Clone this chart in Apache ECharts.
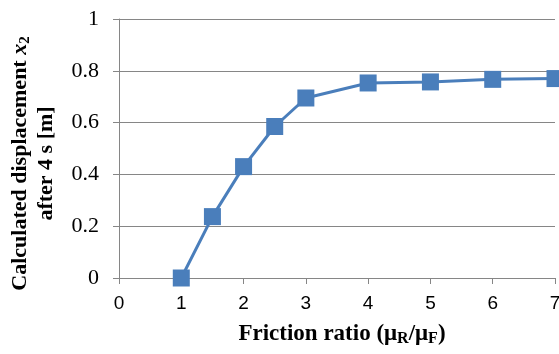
<!DOCTYPE html>
<html><head><meta charset="utf-8">
<script src="https://cdn.jsdelivr.net/npm/echarts@6/dist/echarts.min.js"></script>
<style>html,body{margin:0;padding:0;background:#fff}#c{width:559px;height:354px}</style>
</head><body><div id="c"></div>
<script>
const frictionRatio = [1, 1.5, 2, 2.5, 3, 4, 5, 6, 7];
const displacement = [0, 0.237, 0.43, 0.585, 0.695, 0.753, 0.757, 0.767, 0.77];
const xTicks = [0, 1, 2, 3, 4, 5, 6, 7];
const yTicks = [0, 0.2, 0.4, 0.6, 0.8, 1];

const chart = echarts.init(document.getElementById('c'));
const serif = '"Liberation Serif", "Times New Roman", serif';
chart.setOption({
  animation: false,
  backgroundColor: '#fff',
  grid: { left: 119, right: 4, top: 19, bottom: 76, containLabel: false, outerBoundsMode: 'none' },
  xAxis: {
    type: 'value', min: 0, max: 7, interval: 1,
    axisLine: { show: true, lineStyle: { color: '#868686', width: 1 } },
    axisTick: { show: true, length: 6, lineStyle: { color: '#868686' } },
    splitLine: { show: false },
    axisLabel: { color: '#000', fontFamily: '"Liberation Sans", Arial, sans-serif', fontSize: 19, margin: 16 },
    name: '{b|Friction ratio (μ}{s|R}{b|/μ}{s|F}{b|)}',
    nameLocation: 'middle', nameGap: 44,
    nameTextStyle: {
      padding: [0, 0, 0, 10],
      rich: {
        b: { fontFamily: serif, fontWeight: 'bold', fontSize: 23, color: '#000' },
        s: { fontFamily: serif, fontWeight: 'bold', fontSize: 16, color: '#000', verticalAlign: 'bottom', padding: [9, 0, 0, 0] }
      }
    }
  },
  yAxis: {
    type: 'value', min: 0, max: 1, interval: 0.2,
    axisLine: { show: true, lineStyle: { color: '#868686', width: 1 } },
    axisTick: { show: true, length: 6, lineStyle: { color: '#868686' } },
    splitLine: { show: true, lineStyle: { color: '#868686', width: 1 } },
    axisLabel: { color: '#000', fontFamily: serif, fontSize: 22, margin: 20,
      formatter: v => String(Math.round(v * 10) / 10) },
    name: '{b|Calculated displacement }{i|x}{s|2}\n{b|after 4 s [m]}',
    nameLocation: 'middle', nameGap: 60, nameRotate: 90,
    nameTextStyle: {
      lineHeight: 26,
      padding: [0, 30, 0, 0],
      rich: {
        b: { fontFamily: serif, fontWeight: 'bold', fontSize: 22, color: '#000', lineHeight: 26 },
        i: { fontFamily: serif, fontWeight: 'bold', fontStyle: 'italic', fontSize: 22, color: '#000', lineHeight: 26 },
        s: { fontFamily: serif, fontWeight: 'bold', fontSize: 15, color: '#000', lineHeight: 26, verticalAlign: 'bottom' }
      }
    }
  },
  series: [{
    type: 'line',
    data: frictionRatio.map((x, i) => [x, displacement[i]]),
    symbol: 'rect', symbolSize: 17,
    lineStyle: { color: '#4a7ebb', width: 3 },
    itemStyle: { color: '#4a7ebb' },
    clip: false
  }]
});
</script></body></html>
